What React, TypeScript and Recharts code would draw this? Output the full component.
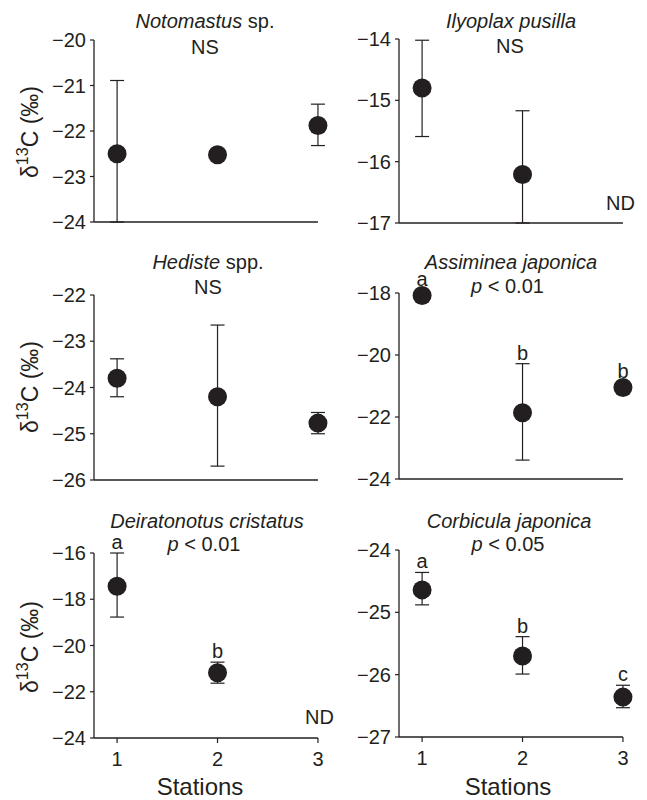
import React from 'react';
import { ScatterChart, Scatter, XAxis, YAxis, ErrorBar, ReferenceLine } from 'recharts';

// ---------- data ----------
const stations = [1, 2, 3];
const stationTicks = [1, 2, 3];
const xDomain: [number, number] = [0.77, 3.12];

// Notomastus sp. (NS)
const notoMean = [-22.5, -22.52, -21.88];
const notoUpper = [-20.89, -22.52, -21.41];
const notoLower = [-24.0, -22.52, -22.32];
const notoTicks = [-24, -23, -22, -21, -20];

// Ilyoplax pusilla (NS, station 3 ND)
const ilyoMean = [-14.8, -16.21, null];
const ilyoUpper = [-14.02, -15.17, null];
const ilyoLower = [-15.59, -17.0, null];
const ilyoTicks = [-17, -16, -15, -14];

// Hediste spp. (NS)
const hediMean = [-23.8, -24.2, -24.77];
const hediUpper = [-23.38, -22.65, -24.54];
const hediLower = [-24.2, -25.7, -25.0];
const hediTicks = [-26, -25, -24, -23, -22];

// Assiminea japonica (p < 0.01)
const assiMean = [-18.08, -21.86, -21.05];
const assiUpper = [-18.08, -20.28, -21.05];
const assiLower = [-18.08, -23.39, -21.05];
const assiLetters = ['a', 'b', 'b'];
const assiTicks = [-24, -22, -20, -18];

// Deiratonotus cristatus (p < 0.01, station 3 ND)
const deirMean = [-17.44, -21.18, null];
const deirUpper = [-16.0, -20.72, null];
const deirLower = [-18.77, -21.63, null];
const deirLetters = ['a', 'b', ''];
const deirTicks = [-24, -22, -20, -18, -16];

// Corbicula japonica (p < 0.05)
const corbMean = [-24.64, -25.7, -26.36];
const corbUpper = [-24.36, -25.39, -26.17];
const corbLower = [-24.88, -25.99, -26.53];
const corbLetters = ['a', 'b', 'c'];
const corbTicks = [-27, -26, -25, -24];

const INK = '#231f20';
const FONT = '"Liberation Sans", Arial, Helvetica, sans-serif';

type Pt = { x: number; y: number; err: [number, number]; top: number; hasErr: boolean; letter: string };

function build(mean: (number | null)[], upper: (number | null)[], lower: (number | null)[], letters?: string[]): Pt[] {
  const out: Pt[] = [];
  stations.forEach((s, i) => {
    const m = mean[i];
    if (m == null) return;
    const u = upper[i] as number;
    const l = lower[i] as number;
    out.push({
      x: s,
      y: m,
      err: [m - l, u - m],
      top: u,
      hasErr: u - m > 0.001,
      letter: letters ? letters[i] : '',
    });
  });
  return out;
}

const fmt = (v: number) => String(v).replace('-', '\u2212');

const Dot = (props: any) => {
  const { cx, cy } = props;
  if (cx == null || cy == null) return null;
  return <circle cx={cx} cy={cy} r={9.5} fill={INK} />;
};

const Letter = (props: any) => {
  const { cx, cy, payload } = props;
  if (cx == null || cy == null || !payload || !payload.letter) return null;
  const y = payload.hasErr ? cy - 4 : cy - 9.5;
  return (
    <text x={cx} y={y} textAnchor="middle" fontSize={20} fontFamily={FONT} fill={INK}>
      {payload.letter}
    </text>
  );
};

type PanelProps = {
  left: number;
  top: number;
  yAxisWidth: number;
  plotW: number;
  plotH: number;
  ticks: number[];
  data: Pt[];
  bottom?: boolean;
  letters?: boolean;
};

function Panel({ left, top, yAxisWidth, plotW, plotH, ticks, data, bottom, letters }: PanelProps) {
  const mTop = 34;
  const xH = bottom ? 40 : 12;
  const mRight = 6;
  const W = yAxisWidth + plotW + mRight;
  const H = mTop + plotH + xH;
  const yMin = ticks[0];
  const yMax = ticks[ticks.length - 1];
  return (
    <div style={{ position: 'absolute', left, top: top - mTop, width: W, height: H }}>
      <ScatterChart width={W} height={H} margin={{ top: mTop, right: mRight, bottom: 0, left: 0 }}>
        <XAxis
          type="number"
          dataKey="x"
          domain={xDomain}
          allowDataOverflow
          ticks={stationTicks}
          height={xH}
          axisLine={false}
          tickLine={{ stroke: INK, strokeWidth: 1.2 }}
          tickSize={5}
          tickMargin={9}
          tick={bottom ? { fontSize: 20, fill: INK, fontFamily: FONT } : false}
        />
        <YAxis
          type="number"
          dataKey="y"
          domain={[yMin, yMax]}
          ticks={ticks}
          tickCount={ticks.length}
          width={yAxisWidth}
          axisLine={{ stroke: INK, strokeWidth: 1.3 }}
          tickLine={{ stroke: INK, strokeWidth: 1.2 }}
          tickSize={4}
          tickMargin={4}
          tickFormatter={fmt}
          tick={{ fontSize: 20, fill: INK, fontFamily: FONT }}
        />
        <ReferenceLine
          segment={[
            { x: xDomain[0], y: yMin },
            { x: stationTicks[stationTicks.length - 1], y: yMin },
          ]}
          stroke={INK}
          strokeWidth={1.3}
          ifOverflow="visible"
        />
        <Scatter data={data} dataKey="y" shape={Dot} isAnimationActive={false}>
          <ErrorBar dataKey="err" direction="y" width={7} stroke={INK} strokeWidth={1.2} />
        </Scatter>
        {letters ? (
          <Scatter
            data={data.map((d) => ({ ...d, y: d.top }))}
            dataKey="y"
            shape={Letter}
            isAnimationActive={false}
          />
        ) : null}
      </ScatterChart>
    </div>
  );
}

const T = ({ x, y, size = 20, children, anchor = 'middle' }: any) => (
  <text x={x} y={y} fontSize={size} fontFamily={FONT} fill={INK} textAnchor={anchor} dominantBaseline="central">
    {children}
  </text>
);

const YLabel = ({ x, y }: { x: number; y: number }) => (
  <text
    transform={`translate(${x},${y}) rotate(-90)`}
    fontSize={23}
    fontFamily={FONT}
    fill={INK}
    textAnchor="middle"
    dominantBaseline="central"
  >
    δ<tspan fontSize={16} dy={-8}>13</tspan>
    <tspan dy={8}>C (‰)</tspan>
  </text>
);

export default function App() {
  const LX = 0;
  const LW = 94;
  const RX = 325;
  const RW = 74;
  const PW = 236;
  return (
    <div style={{ position: 'absolute', left: 0, top: 0, width: 647, height: 800, background: '#fff', overflow: 'hidden' }}>
      <Panel left={LX} top={40} yAxisWidth={LW} plotW={PW} plotH={182} ticks={notoTicks} data={build(notoMean, notoUpper, notoLower)} />
      <Panel left={RX} top={39} yAxisWidth={RW} plotW={PW} plotH={184} ticks={ilyoTicks} data={build(ilyoMean, ilyoUpper, ilyoLower)} />
      <Panel left={LX} top={295} yAxisWidth={LW} plotW={PW} plotH={185} ticks={hediTicks} data={build(hediMean, hediUpper, hediLower)} />
      <Panel left={RX} top={293} yAxisWidth={RW} plotW={PW} plotH={186} ticks={assiTicks} data={build(assiMean, assiUpper, assiLower, assiLetters)} letters />
      <Panel left={LX} top={553} yAxisWidth={LW} plotW={PW} plotH={185} ticks={deirTicks} data={build(deirMean, deirUpper, deirLower, deirLetters)} letters bottom />
      <Panel left={RX} top={550} yAxisWidth={RW} plotW={PW} plotH={187} ticks={corbTicks} data={build(corbMean, corbUpper, corbLower, corbLetters)} letters bottom />
      <svg width={647} height={800} style={{ position: 'absolute', left: 0, top: 0, pointerEvents: 'none' }}>
        <T x={205} y={21}><tspan fontStyle="italic">Notomastus</tspan> sp.</T>
        <T x={205} y={46.5}>NS</T>
        <T x={511} y={21}><tspan fontStyle="italic">Ilyoplax pusilla</tspan></T>
        <T x={510} y={46}>NS</T>
        <T x={635} y={203} anchor="end">ND</T>

        <T x={208} y={261.5}><tspan fontStyle="italic">Hediste</tspan> spp.</T>
        <T x={208} y={286.5}>NS</T>
        <T x={511} y={261.5}><tspan fontStyle="italic">Assiminea japonica</tspan></T>
        <T x={507.5} y={286}><tspan fontStyle="italic">p</tspan> &lt; 0.01</T>

        <T x={207} y={521}><tspan fontStyle="italic">Deiratonotus cristatus</tspan></T>
        <T x={204} y={544}><tspan fontStyle="italic">p</tspan> &lt; 0.01</T>
        <T x={509} y={521}><tspan fontStyle="italic">Corbicula japonica</tspan></T>
        <T x={508} y={544}><tspan fontStyle="italic">p</tspan> &lt; 0.05</T>
        <T x={334} y={717} anchor="end">ND</T>

        <T x={200} y={786} size={24}>Stations</T>
        <T x={508} y={786} size={24}>Stations</T>

        <YLabel x={30} y={132} />
        <YLabel x={30} y={387} />
        <YLabel x={30} y={647} />
      </svg>
    </div>
  );
}
